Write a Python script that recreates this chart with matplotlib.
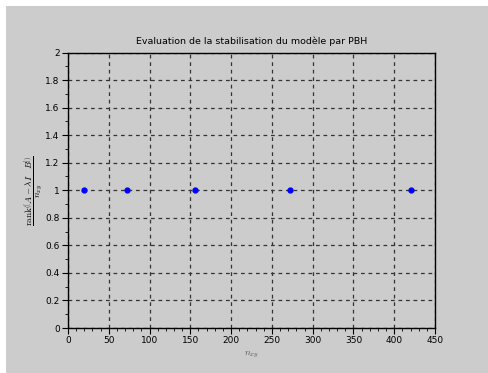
import numpy as np
import matplotlib
matplotlib.use('Agg')
from matplotlib import pyplot as plt
from matplotlib.patches import Rectangle
from matplotlib.ticker import MultipleLocator

# data
n_xy = [20, 72, 156, 272, 420]
rank_ratio = [1, 1, 1, 1, 1]

title = 'Evaluation de la stabilisation du modèle par PBH'
bg = '#cccccc'

plt.rcParams['mathtext.fontset'] = 'cm'

fig = plt.figure(figsize=(4.88, 3.73), dpi=100)
fig.patch.set_facecolor(bg)
# thin white margin on the top and left edges
fig.patches.append(Rectangle((0, 0), 6 / 488, 1, transform=fig.transFigure,
                             facecolor='white', edgecolor='none', zorder=-10))
fig.patches.append(Rectangle((0, 1 - 6 / 373), 1, 6 / 373, transform=fig.transFigure,
                             facecolor='white', edgecolor='none', zorder=-10))

ax = fig.add_axes([68 / 488, 45 / 373, (435 - 68) / 488, (328 - 52.5) / 373])
ax.set_facecolor(bg)

ax.plot(n_xy, rank_ratio, linestyle='none', marker='o', markersize=3.5,
        color='blue', zorder=3)

ax.set_xlim(0, 450)
ax.set_ylim(0, 2)
ax.xaxis.set_major_locator(MultipleLocator(50))
ax.xaxis.set_minor_locator(MultipleLocator(10))
ax.yaxis.set_major_locator(MultipleLocator(0.2))
ax.yaxis.set_minor_locator(MultipleLocator(0.1))
ax.yaxis.set_major_formatter(plt.FuncFormatter(lambda v, p: ('%g' % round(v, 1))))

ax.grid(True, which='major', linestyle=(0, (3, 3)), color='#333333', linewidth=0.9)
ax.tick_params(which='major', direction='out', length=4, width=0.8, labelsize=6.5, pad=2)
ax.tick_params(which='minor', direction='out', length=2, width=0.6)
for s in ax.spines.values():
    s.set_linewidth(1.0)

ax.set_title(title, fontsize=6.8, pad=6)
ax.set_xlabel(r'$n_{xy}$', fontsize=7, color='#555555', labelpad=3)
ax.set_ylabel(r'$\frac{\mathrm{rank}\left(\left[A - \lambda I \quad B\right]\right)}{n_{xy}}$',
              fontsize=9.5, labelpad=0)

plt.savefig('out.png', dpi=100, facecolor=fig.get_facecolor())
